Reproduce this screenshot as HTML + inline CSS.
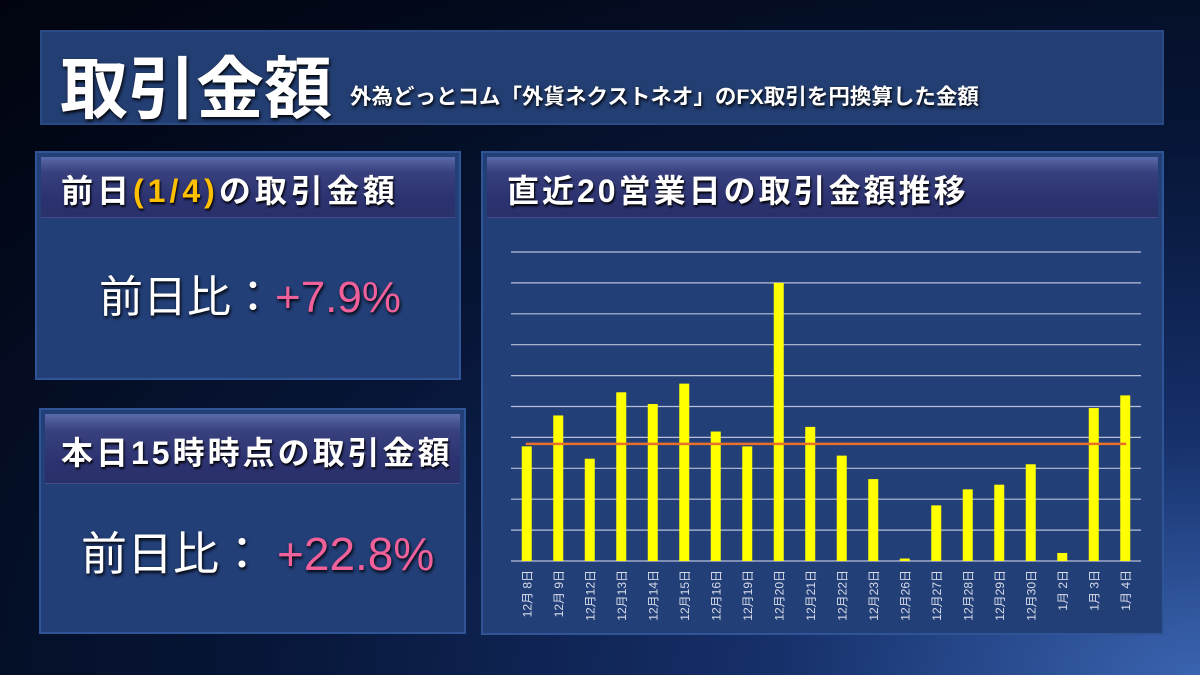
<!DOCTYPE html>
<html><head><meta charset="utf-8"><style>
*{margin:0;padding:0;box-sizing:border-box}
body{width:1200px;height:675px;overflow:hidden;position:relative;font-family:"Liberation Sans","Noto Sans CJK JP",sans-serif;
background:radial-gradient(ellipse at 100% 100%,#3a64b0 0%,#16306a 25%,#071638 55%,#020818 85%,#010410 100%);}
.box{position:absolute;background:#233f78;border:2px solid #2f5596;}
.hdr{position:absolute;left:4px;right:4px;top:4px;background:linear-gradient(#5a6aa8 0%,#38407e 25%,#2c3270 70%,#2a3068 100%);color:#fff;font-weight:bold;text-shadow:1px 2px 2px #000;border-bottom:1px solid #4a4a90;white-space:nowrap}
.big{position:absolute;color:#fff;text-shadow:1px 2px 3px #000;white-space:nowrap}
.pink{color:#f0609a}
</style></head><body>
<div class="box" style="left:40px;top:30px;width:1124px;height:95px;background:#233e72;border-color:#2a4a86">
  <div class="big" style="left:18px;top:2px;font-size:68px;font-weight:bold">取引金額</div>
  <div class="big" style="left:308px;top:48px;font-size:21.5px;font-weight:bold">外為どっとコム「外貨ネクストネオ」のFX取引を円換算した金額</div>
</div>
<div class="box" style="left:35px;top:151px;width:426px;height:229px">
  <div class="hdr" style="height:61px;font-size:32px;padding:9px 0 0 20px;letter-spacing:4px">前日<span style="color:#ffc000">(1/4)</span>の取引金額</div>
  <div class="big" style="left:62px;top:108px;font-size:44px">前日比：<span class="pink">+7.9%</span></div>
</div>
<div class="box" style="left:39px;top:408px;width:427px;height:226px">
  <div class="hdr" style="height:70px;font-size:32px;padding:14px 0 0 16px;letter-spacing:3px">本日15時時点の取引金額</div>
  <div class="big" style="left:40px;top:108px;font-size:46px">前日比：<span class="pink" style="margin-left:12px">+22.8%</span></div>
</div>
<div class="box" style="left:481px;top:151px;width:683px;height:484px">
  <div class="hdr" style="height:61px;font-size:32px;padding:9px 0 0 20px;letter-spacing:3px">直近20営業日の取引金額推移</div>
</div>
<svg id="chart" width="1200" height="675" style="position:absolute;left:0;top:0"></svg>
<script>
const categories=["12月 8日","12月 9日","12月12日","12月13日","12月14日","12月15日","12月16日","12月19日","12月20日","12月21日","12月22日","12月23日","12月26日","12月27日","12月28日","12月29日","12月30日","1月 2日","1月 3日","1月 4日"];
const values=[3.71,4.71,3.31,5.46,5.08,5.74,4.19,3.71,9.0,4.34,3.41,2.65,0.08,1.80,2.32,2.47,3.13,0.26,4.95,5.36];
const average=[3.79];
const gridTicks=[0,1,2,3,4,5,6,7,8,9,10];
const NS="http://www.w3.org/2000/svg";
const svg=document.getElementById('chart');
const X0=511,X1=1141,Y0=561,Y1=252,MAX=10;
const step=(X1-X0)/categories.length;
function xc(i){return X0+step*(i+0.5);}
function y(v){return Y0-(Y0-Y1)*v/MAX;}
function mk(t,a){const e=document.createElementNS(NS,t);for(const k in a)e.setAttribute(k,a[k]);svg.appendChild(e);return e;}
gridTicks.forEach(t=>{
  const l=mk('line',{x1:X0,x2:X1,y1:y(t),y2:y(t),stroke:'#b8c0d8','stroke-width':1.2});
  
  
});
values.forEach((v,i)=>{
  const r=mk('rect',{x:xc(i)-5,y:y(v),width:10,height:Y0-y(v),fill:'#ffff00'});
  
  
  const t=mk('text',{x:0,y:0,transform:`translate(${xc(i)+4.5},570) rotate(-90)`,'text-anchor':'end','font-size':12,fill:'#d8dce8','font-family':'Liberation Sans, Noto Sans CJK JP, sans-serif'});
  t.textContent=categories[i];
  
  
});
const al=mk('line',{x1:xc(0)-1,x2:xc(categories.length-1)+1,y1:y(average[0]),y2:y(average[0]),stroke:'#e8702a','stroke-width':2.5});


</script>
</body></html>
